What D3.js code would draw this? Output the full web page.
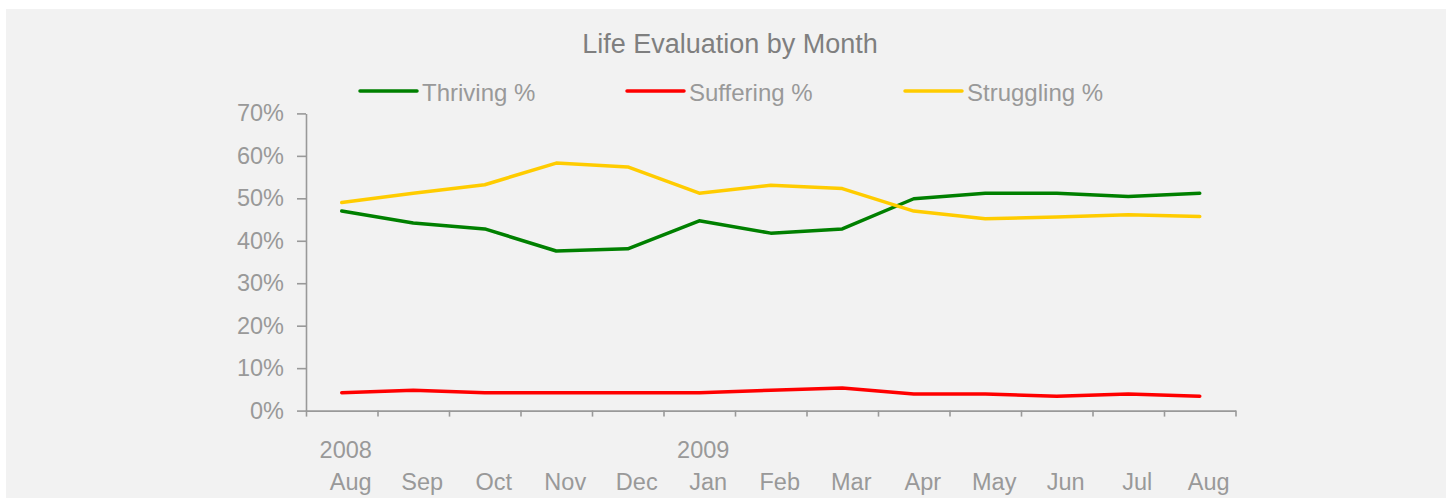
<!DOCTYPE html>
<html>
<head>
<meta charset="utf-8">
<script src="https://cdn.jsdelivr.net/npm/d3@7"></script>
<style>
  html, body { margin: 0; padding: 0; background: #ffffff; }
  svg { display: block; font-family: "Liberation Sans", Arial, sans-serif; }
</style>
</head>
<body>
<div id="chart"></div>
<script>
const months = ['Aug', 'Sep', 'Oct', 'Nov', 'Dec', 'Jan', 'Feb', 'Mar', 'Apr', 'May', 'Jun', 'Jul', 'Aug'];
const years = ['2008', '', '', '', '', '2009', '', '', '', '', '', '', ''];
const yTicks = [0, 10, 20, 30, 40, 50, 60, 70];

const thriving = [47.0, 44.2, 42.8, 37.6, 38.1, 44.7, 41.8, 42.8, 49.9, 51.2, 51.2, 50.4, 51.2];
const suffering = [4.2, 4.8, 4.2, 4.2, 4.2, 4.2, 4.8, 5.3, 3.9, 3.9, 3.4, 3.9, 3.4];
const struggling = [49.0, 51.2, 53.2, 58.3, 57.4, 51.2, 53.1, 52.3, 47.0, 45.2, 45.6, 46.1, 45.7];

const seriesNames = ['Thriving %', 'Suffering %', 'Struggling %'];
const seriesColors = ['#008000', '#ff0000', '#ffcc00'];
const seriesValues = [thriving, suffering, struggling];

const width = 1447, height = 498;
const plot = { left: 306, right: 1235.5, top: 113.4, bottom: 410.6 };

const svg = d3.select('#chart').append('svg')
  .attr('width', width)
  .attr('height', height);

// gray chart area
svg.append('rect')
  .attr('x', 6).attr('y', 9)
  .attr('width', width - 7).attr('height', height - 9)
  .attr('fill', '#f2f2f2');

// title
svg.append('text')
  .attr('x', 730)
  .attr('y', 52.5)
  .attr('text-anchor', 'middle')
  .style('font-size', '27px')
  .style('fill', '#7f7f7f')
  .text('Life Evaluation by Month');

// scales
const xb = d3.scaleLinear()
  .domain([0, months.length])
  .range([plot.left, plot.right]);

const y = d3.scaleLinear()
  .domain([0, 70])
  .range([plot.bottom, plot.top]);

// Y axis
const yAxis = svg.append('g')
  .attr('transform', `translate(${plot.left},0)`)
  .call(d3.axisLeft(y).tickValues(yTicks).tickFormat(d => d + '%').tickSize(9).tickSizeOuter(0).tickPadding(13));
yAxis.selectAll('path, line').attr('stroke', '#999999').attr('stroke-width', 1.6);
yAxis.selectAll('text')
  .attr('dy', '0.32em')
  .style('font-size', '23.5px')
  .style('font-family', '"Liberation Sans", Arial, sans-serif')
  .style('fill', '#999999');

// X axis
const xAxis = svg.append('g')
  .attr('transform', `translate(0,${plot.bottom})`)
  .call(d3.axisBottom(xb).tickValues(d3.range(months.length + 1)).tickFormat('').tickSize(6).tickSizeOuter(0));
xAxis.selectAll('path, line').attr('stroke', '#999999').attr('stroke-width', 1.6);

// category labels
svg.append('g')
  .selectAll('text')
  .data(months)
  .enter()
  .append('text')
  .attr('x', (d, i) => xb(i + 0.5) + 9)
  .attr('y', 489.5)
  .attr('text-anchor', 'middle')
  .style('font-size', '23.5px')
  .style('fill', '#999999')
  .text(d => d);

svg.append('g')
  .selectAll('text')
  .data(years)
  .enter()
  .append('text')
  .attr('x', (d, i) => xb(i + 0.5) + 4)
  .attr('y', 458)
  .attr('text-anchor', 'middle')
  .style('font-size', '23.5px')
  .style('fill', '#999999')
  .text(d => d);

// lines
const line = d3.line()
  .x((d, i) => xb(i + 0.5))
  .y(d => y(d));

svg.append('g')
  .selectAll('path')
  .data(seriesValues)
  .enter()
  .append('path')
  .attr('d', d => line(d))
  .attr('fill', 'none')
  .attr('stroke', (d, i) => seriesColors[i])
  .attr('stroke-width', 3.5)
  .attr('stroke-linejoin', 'round')
  .attr('stroke-linecap', 'round');

// legend
const legendX = [360, 627, 905];
const legend = svg.append('g')
  .selectAll('g')
  .data(seriesNames)
  .enter()
  .append('g')
  .attr('transform', (d, i) => `translate(${legendX[i]},91)`);

legend.append('line')
  .attr('x1', 0).attr('x2', 57)
  .attr('y1', 0).attr('y2', 0)
  .attr('stroke', (d, i) => seriesColors[i])
  .attr('stroke-width', 3.5)
  .attr('stroke-linecap', 'round');

legend.append('text')
  .attr('x', 62)
  .attr('y', 9.5)
  .style('font-size', '24px')
  .style('fill', '#999999')
  .text(d => d);
</script>
</body>
</html>
